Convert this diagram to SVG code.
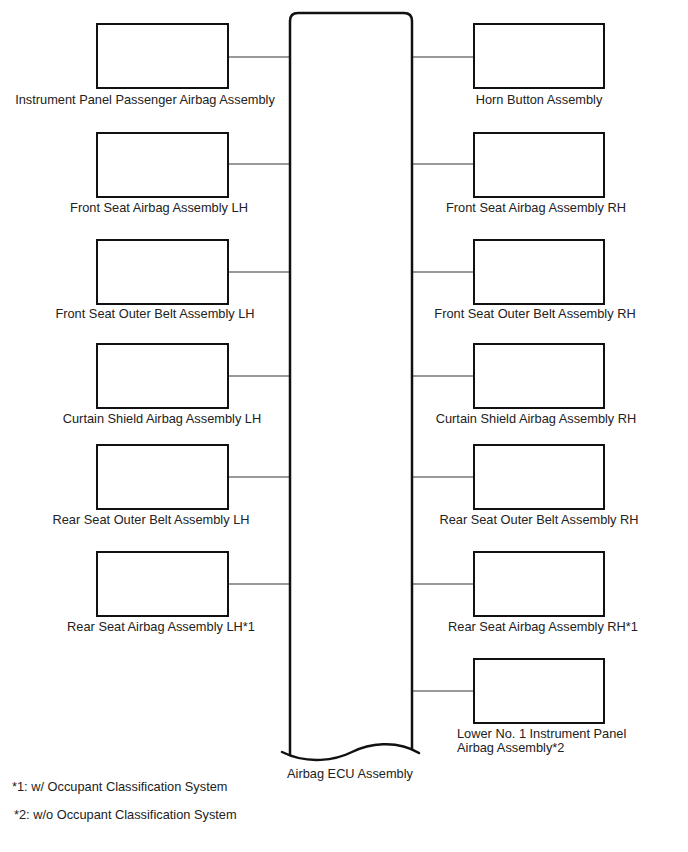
<svg xmlns="http://www.w3.org/2000/svg" width="688" height="852" viewBox="0 0 688 852">
<style>
.box{fill:#fff;stroke:#111;stroke-width:2}
.ecu{fill:none;stroke:#111;stroke-width:2.5;stroke-linecap:round;stroke-linejoin:round}
.conn{stroke:#777;stroke-width:1.3;fill:none}
text{font-family:"Liberation Sans",Arial,sans-serif;font-size:12.8px;fill:#222}
.m{text-anchor:middle}
</style>
<rect width="688" height="852" fill="#fff"/>
<g id="connectors">
<line class="conn" x1="228" y1="57" x2="290" y2="57"/>
<line class="conn" x1="228" y1="164" x2="290" y2="164"/>
<line class="conn" x1="228" y1="272" x2="290" y2="272"/>
<line class="conn" x1="228" y1="376" x2="290" y2="376"/>
<line class="conn" x1="228" y1="477" x2="290" y2="477"/>
<line class="conn" x1="228" y1="584" x2="290" y2="584"/>
<line class="conn" x1="412" y1="57" x2="474" y2="57"/>
<line class="conn" x1="412" y1="164" x2="474" y2="164"/>
<line class="conn" x1="412" y1="272" x2="474" y2="272"/>
<line class="conn" x1="412" y1="376" x2="474" y2="376"/>
<line class="conn" x1="412" y1="477" x2="474" y2="477"/>
<line class="conn" x1="412" y1="584" x2="474" y2="584"/>
<line class="conn" x1="412" y1="691" x2="474" y2="691"/>
</g>
<g id="ecu">
<path class="ecu" d="M290,755 V21 Q290,13 298,13 H404 Q412,13 412,21 V749"/>
<path class="ecu" d="M282,752 C308,765 336,760 352,752 S396,739 419,753"/>
<text class="m" x="350" y="778">Airbag ECU Assembly</text>
</g>
<g id="ipp-airbag"><rect class="box" x="97" y="24" width="131" height="64"/><text class="m" x="145" y="104">Instrument Panel Passenger Airbag Assembly</text></g>
<g id="front-seat-airbag-lh"><rect class="box" x="97" y="133" width="131" height="64"/><text class="m" x="159" y="212">Front Seat Airbag Assembly LH</text></g>
<g id="front-belt-lh"><rect class="box" x="97" y="240" width="131" height="64"/><text class="m" x="155" y="318">Front Seat Outer Belt Assembly LH</text></g>
<g id="curtain-lh"><rect class="box" x="97" y="344" width="131" height="64"/><text class="m" x="162" y="423">Curtain Shield Airbag Assembly LH</text></g>
<g id="rear-belt-lh"><rect class="box" x="97" y="445" width="131" height="64"/><text class="m" x="151" y="524">Rear Seat Outer Belt Assembly LH</text></g>
<g id="rear-seat-airbag-lh"><rect class="box" x="97" y="552" width="131" height="64"/><text class="m" x="161" y="631">Rear Seat Airbag Assembly LH*1</text></g>
<g id="horn"><rect class="box" x="474" y="24" width="130" height="64"/><text class="m" x="539" y="104">Horn Button Assembly</text></g>
<g id="front-seat-airbag-rh"><rect class="box" x="474" y="133" width="130" height="64"/><text class="m" x="536" y="212">Front Seat Airbag Assembly RH</text></g>
<g id="front-belt-rh"><rect class="box" x="474" y="240" width="130" height="64"/><text class="m" x="535" y="318">Front Seat Outer Belt Assembly RH</text></g>
<g id="curtain-rh"><rect class="box" x="474" y="344" width="130" height="64"/><text class="m" x="536" y="423">Curtain Shield Airbag Assembly RH</text></g>
<g id="rear-belt-rh"><rect class="box" x="474" y="445" width="130" height="64"/><text class="m" x="539" y="524">Rear Seat Outer Belt Assembly RH</text></g>
<g id="rear-seat-airbag-rh"><rect class="box" x="474" y="552" width="130" height="64"/><text class="m" x="543" y="631">Rear Seat Airbag Assembly RH*1</text></g>
<g id="lower-ip-airbag"><rect class="box" x="474" y="659" width="130" height="64"/><text x="457" y="738">Lower No. 1 Instrument Panel</text><text x="457" y="752">Airbag Assembly*2</text></g>
<g id="notes">
<text x="12" y="791">*1: w/ Occupant Classification System</text>
<text x="14" y="819">*2: w/o Occupant Classification System</text>
</g>
</svg>
